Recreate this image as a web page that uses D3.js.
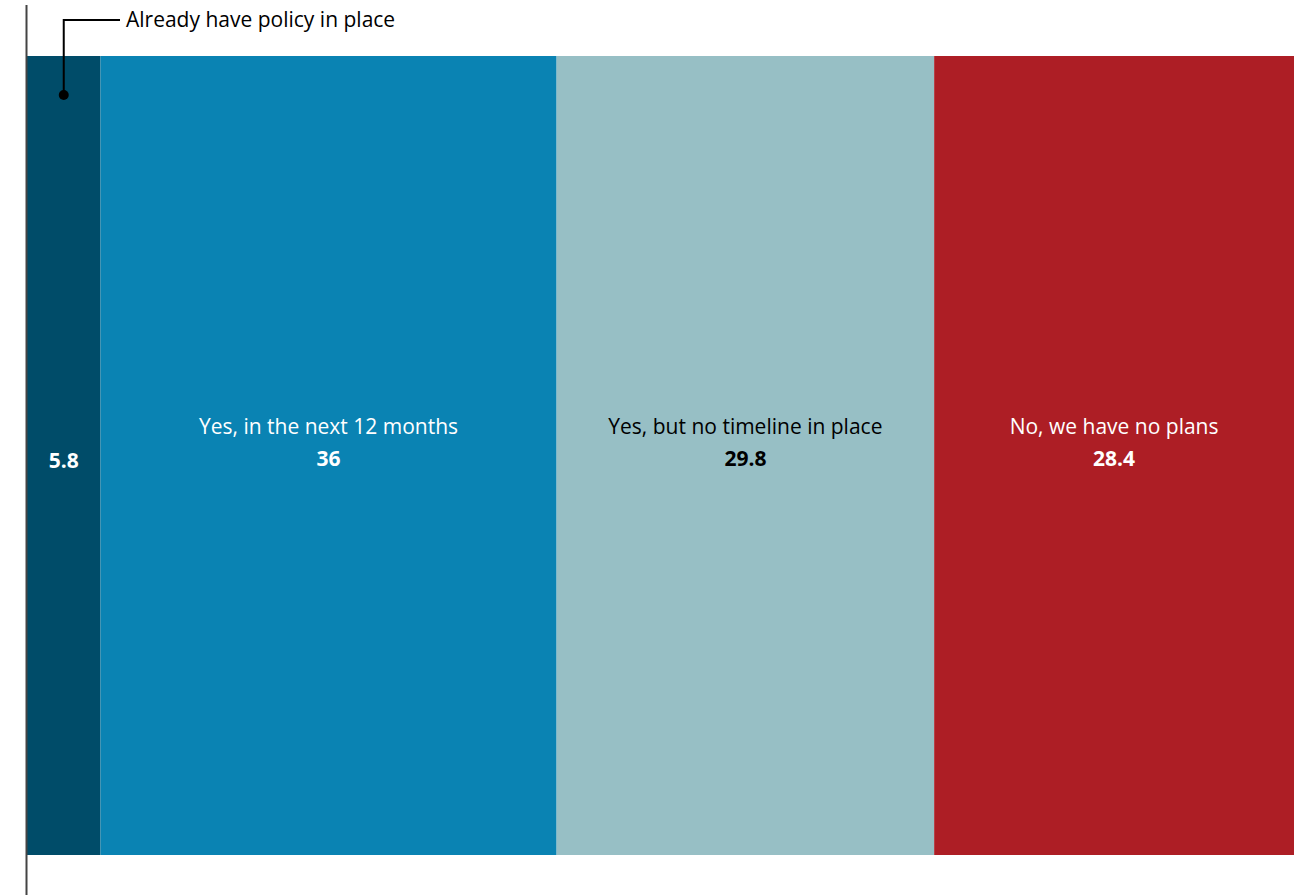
<!DOCTYPE html>
<html>
<head>
<meta charset="utf-8">
<script src="https://cdn.jsdelivr.net/npm/d3@7"></script>
<style>
  html, body { margin: 0; padding: 0; background: #fff; }
  svg { display: block; font-family: "Open Sans", "Noto Sans", sans-serif; }
</style>
</head>
<body>
<svg id="chart" width="1303" height="895"></svg>
<script>
// data
const categories = ["Already have policy in place", "Yes, in the next 12 months", "Yes, but no timeline in place", "No, we have no plans"];
const values = [5.8, 36, 29.8, 28.4];
const colors = ["#004c69", "#0a83b3", "#97bfc5", "#ad1e25"];
const textColors = ["#ffffff", "#ffffff", "#000000", "#ffffff"];

const svg = d3.select("#chart");
const margin = { left: 27, right: 9, top: 56, bottom: 40 };
const width = 1303, height = 895;

// stacked offsets
let acc = 0;
const segs = values.map((v, i) => {
    const s = { name: categories[i], value: v, x0: acc, x1: acc + v, i };
    acc += v;
    return s;
});

const x = d3.scaleLinear().domain([0, d3.sum(values)]).range([margin.left, width - margin.right]);
const y = d3.scaleBand().domain(["all"]).range([margin.top, height - margin.bottom]).padding(0);

svg.append("g").selectAll("rect")
    .data(segs)
    .enter().append("rect")
    .attr("x", d => x(d.x0))
    .attr("y", y("all"))
    .attr("width", d => x(d.x1) - x(d.x0))
    .attr("height", y.bandwidth())
    .attr("fill", d => colors[d.i]);

const midY = y("all") + y.bandwidth() / 2;

// labels inside wide segments
const labels = svg.append("g").selectAll("g")
    .data(segs)
    .enter().append("g")
    .attr("transform", d => `translate(${(x(d.x0) + x(d.x1)) / 2},${midY})`);

labels.filter(d => d.i > 0).append("text")
    .attr("text-anchor", "middle")
    .attr("y", -22)
    .attr("font-size", 21)
    .attr("fill", d => textColors[d.i])
    .text(d => d.name);

labels.append("text")
    .attr("text-anchor", "middle")
    .attr("y", d => d.i > 0 ? 10 : 12)
    .attr("font-size", 21)
    .attr("font-weight", "bold")
    .attr("fill", d => textColors[d.i])
    .text(d => d.value);

// annotation for the small segment
const first = segs[0];
const ax = (x(first.x0) + x(first.x1)) / 2;
const ann = svg.append("g");
ann.append("path")
    .attr("d", `M${ax},95 V20 H120`)
    .attr("fill", "none")
    .attr("stroke", "#000")
    .attr("stroke-width", 2);
ann.append("circle")
    .attr("cx", ax).attr("cy", 95).attr("r", 5)
    .attr("fill", "#000");
ann.append("text")
    .attr("x", 126).attr("y", 27)
    .attr("font-size", 21)
    .attr("fill", "#000")
    .text(first.name);

// vertical axis line
svg.append("line")
    .attr("x1", margin.left - 0.5).attr("x2", margin.left - 0.5)
    .attr("y1", 5).attr("y2", height)
    .attr("stroke", "#444")
    .attr("stroke-width", 2);
</script>
</body>
</html>
